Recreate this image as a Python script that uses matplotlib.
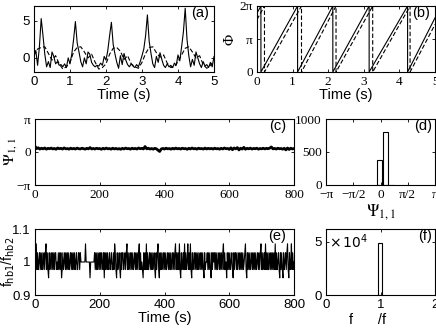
import numpy as np
import matplotlib
matplotlib.use('Agg')
import matplotlib.pyplot as plt
from matplotlib.transforms import blended_transform_factory

# ---- data ----
# (a) bundle signals, solid sampled every 0.05 s, dashed every 0.1 s
sig_solid = [0.5, 1.0, -1.0, 1.5, 5.3, 3.0, 0.5, -1.2, -0.5, -1.3,
             0.8, 0.2, -0.8, -0.5, -1.0, -0.9, -1.2, -0.8, -1.3, 0.0,
             -0.8, 0.5, 2.5, 4.9, 2.0, 0.8, -0.5, -1.2, 0.0, -0.8,
             0.8, 0.5, -0.6, -1.0, -1.2, -1.0, -1.1, -0.7, -1.0, 0.2,
             -0.3, 1.0, 3.0, 4.8, 1.8, 0.5, -0.6, -1.4, 0.3, -0.9,
             0.6, -0.3, -0.9, -1.2, -0.8, -1.1, -1.3, -0.9, -1.2, -0.5,
             0.3, 1.2, 3.0, 5.8, 2.2, 0.6, -0.8, -1.3, 0.2, -0.6,
             0.7, -0.2, -1.0, -1.3, -0.8, -1.2, -1.0, -1.3, -0.7, -1.0,
             0.4, -0.4, 1.5, 3.5, 6.7, 2.5, 0.3, -1.2, -0.2, -1.0,
             0.8, 0.0, -0.8, -1.3, -0.5, -1.1, -0.9, -1.3, -0.6, -1.2,
             0.2]
sig_dashed = [0.3, 1.2, 1.4, 1.5, 0.6, -0.3, 0.3, -0.8, -1.5, -1.2,
              -0.6, 0.8, 1.4, 1.5, 0.8, 0.0, 0.5, -0.6, -1.5, -1.3,
              -0.8, 0.5, 1.3, 1.4, 0.9, -0.2, 0.3, -0.8, -1.2, -1.4,
              -0.6, 0.6, 1.4, 1.5, 0.7, 0.1, 0.4, -0.7, -1.3, -1.2,
              -0.5, 0.4, 1.3, 1.5, 0.8, 0.0, 0.3, -0.9, -1.4, -1.0,
              -0.4]

# (b) times at which each phase wraps from 2pi back to 0
resets_solid = [0.11, 1.14, 2.13, 3.15, 4.23]
resets_dashed = [0.21, 1.25, 2.22, 3.25, 4.30]

# (c) phase difference Psi_1,1, one value every 5 s
psi_vals = [0.55, 0.32, 0.40, 0.28, 0.36, 0.30, 0.38, 0.27, 0.35, 0.31,
            0.37, 0.29, 0.34, 0.26, 0.38, 0.31, 0.35, 0.28, 0.39, 0.30,
            0.33, 0.27, 0.36, 0.30, 0.34, 0.28, 0.37, 0.31, 0.29, 0.36,
            0.32, 0.27, 0.35, 0.30, 0.42, 0.29, 0.34, 0.28, 0.36, 0.31,
            0.33, 0.26, 0.35, 0.29, 0.37, 0.30, 0.33, 0.27, 0.36, 0.29,
            0.34, 0.28, 0.32, 0.26, 0.35, 0.29, 0.37, 0.31, 0.33, 0.27,
            0.36, 0.30, 0.34, 0.28, 0.38, 0.31, 0.35, 0.29, 0.52, 0.30,
            0.36, 0.28, 0.33, 0.27, 0.35, 0.30, 0.18, 0.05, 0.29, 0.34,
            0.28, 0.36, 0.30, 0.33, 0.27, 0.35, 0.29, 0.37, 0.30, 0.34,
            0.28, 0.36, 0.31, 0.33, 0.26, 0.35, 0.29, 0.38, 0.30, 0.34,
            0.27, 0.36, 0.31, 0.33, 0.28, 0.37, 0.29, 0.35, 0.30, 0.34,
            0.28, 0.36, 0.30, 0.33, 0.27, 0.35, 0.29, 0.38, 0.31, 0.34,
            0.25, 0.40, 0.22, 0.38, 0.30, 0.42, 0.20, 0.36, 0.28, 0.44,
            0.26, 0.35, 0.30, 0.37, 0.28, 0.34, 0.31, 0.36, 0.27, 0.33,
            0.30, 0.36, 0.29, 0.35, 0.31, 0.37, 0.48, 0.30, 0.34, 0.28,
            0.36, 0.31, 0.33, 0.27, 0.35, 0.20, 0.38, 0.24, 0.36, 0.29,
            0.33]

# (d) histogram of Psi_1,1
hist_centers = [-0.07, 0.29, 0.64]
hist_counts = [380, 810, 6]

# (e) frequency ratio, one code per 2 s (n=1, u/d small step, U/D spike)
ratio_levels = {'n': 1.0, 'u': 1.028, 'd': 0.977, 'U': 1.055, 'D': 0.952}
ratio_codes = ("DnUdudnudu dudnuduUdu dDudnududu duudndudud uDdudnudud "
               "ududnududu dudnudduud unnnnnnnUn nnnnnDnnnn nnudududnu "
               "dudunduDud ududnudnud dudUudDudn udDuduudnu duUdudnudu "
               "dudnududud uUdudndDud udUdudnudu dudnudDudu UdDududnud "
               "ududnududu dnududuUdu dudUdDudnu dUdudnUdud UdDudnudud "
               "ududnududu dDudnnudud udDudunudu dudnududud uUdudnDudu "
               "dudnudDudu ududnududu dudnuUdDud ududnududu dudnududuU "
               "dudnudUdud udnudududu dUdudnudDu dudDudnudu UdDudnUdud n")

# (f) histogram of the ratio
ratio_bin = [0.99]
ratio_count = [4.9e4]

# ---- figure ----
W, H = 436, 328
fig = plt.figure(figsize=(W / 100, H / 100), dpi=100)

SANS = 'Liberation Sans'
SERIF = 'Liberation Serif'


def box(l, t, r, b):
    return [l / W, 1 - b / H, (r - l) / W, (b - t) / H]


def style(ax, family):
    ax.tick_params(direction='in', top=True, right=True, length=2.5,
                   width=0.6, pad=3, labelsize=9.5)
    for lab in ax.get_xticklabels() + ax.get_yticklabels():
        lab.set_family(family)
    for s in ax.spines.values():
        s.set_linewidth(0.8)


def tag(ax, s):
    ax.text(0.97, 0.9, s, transform=ax.transAxes, ha='right', va='center',
            family=SANS, fontsize=10.5)


# (a)
ax = fig.add_axes(box(34, 6, 214, 72))
t_solid = np.arange(len(sig_solid)) * 0.05
t_dashed = np.arange(len(sig_dashed)) * 0.1
ax.plot(t_solid, sig_solid, color='k', lw=0.8)
ax.plot(t_dashed, sig_dashed, color='k', lw=0.8, ls=(0, (4, 2)))
ax.set_xlim(0, 5)
ax.set_ylim(-1.9, 7)
ax.set_yticks([0, 5])
ax.set_xticks([0, 1, 2, 3, 4, 5])
style(ax, SANS)
ax.set_xlabel('Time (s)', family=SANS, fontsize=10.5, labelpad=0)
tag(ax, '(a)')

# (b)
ax = fig.add_axes(box(257, 6, 435, 72))
two_pi = 2 * np.pi


def sawtooth(resets, end_frac):
    per = np.diff(resets).mean()
    ts = [0.0, resets[0]]
    ys = [two_pi * (1 - resets[0] / per), two_pi]
    for i, r in enumerate(resets):
        ts += [r]
        ys += [0.0]
        if i + 1 < len(resets):
            ts += [resets[i + 1]]
            ys += [two_pi]
    ts += [5.0]
    ys += [two_pi * end_frac]
    return ts, ys


ts, ys = sawtooth(resets_solid, 0.82)
ax.plot(ts, ys, color='k', lw=0.8)
ts, ys = sawtooth(resets_dashed, 0.72)
ax.plot(ts, ys, color='k', lw=0.8, ls=(0, (4, 2)))
ax.set_xlim(0, 5)
ax.set_ylim(0, two_pi)
ax.set_yticks([0, np.pi, two_pi], ['0', 'π', '2π'])
ax.set_xticks([0, 1, 2, 3, 4, 5])
style(ax, SERIF)
ax.set_xlabel('Time (s)', family=SANS, fontsize=10.5, labelpad=0)
ax.set_ylabel('Φ', family=SERIF, fontsize=11, labelpad=2)
tag(ax, '(b)')

# (c)
ax = fig.add_axes(box(35, 119, 294, 185))
t_psi = np.arange(len(psi_vals)) * 5.0
ax.plot(t_psi, psi_vals, color='k', lw=2.0)
ax.set_xlim(0, 800)
ax.set_ylim(-np.pi, np.pi)
ax.set_yticks([-np.pi, 0, np.pi], ['−π', '0', 'π'])
ax.set_xticks([0, 200, 400, 600, 800])
style(ax, SERIF)
ax.set_ylabel(r'$\Psi_{1,1}$', fontsize=11.5, math_fontfamily='stix')
ax.yaxis.set_label_coords(-0.062, 0.5)
tag(ax, '(c)')

# (d)
ax = fig.add_axes(box(326, 119, 435, 185))
ax.bar(hist_centers, hist_counts, width=0.32, facecolor='white',
       edgecolor='k', linewidth=0.8)
ax.set_xlim(-np.pi, np.pi)
ax.set_ylim(0, 1000)
ax.set_yticks([0, 500, 1000])
ax.set_xticks([-np.pi, -np.pi / 2, 0, np.pi / 2, np.pi],
              ['−π', '−π/2', '0', 'π/2', 'π'])
style(ax, SERIF)
ax.set_xlabel(r'$\Psi_{1,1}$', fontsize=12, math_fontfamily='stix',
              labelpad=1)
tag(ax, '(d)')

# (e)
ax = fig.add_axes(box(35, 229, 294, 295))
codes = ratio_codes.replace(' ', '')
ratio = [ratio_levels[c] for c in codes]
t_ratio = np.arange(len(ratio)) * 2.0
ax.plot(t_ratio, ratio, color='k', lw=0.8)
ax.set_xlim(0, 800)
ax.set_ylim(0.9, 1.1)
ax.set_yticks([0.9, 1.0, 1.1], ['0.9', '1', '1.1'])
ax.set_xticks([0, 200, 400, 600, 800])
style(ax, SANS)
ax.set_xlabel('Time (s)', family=SANS, fontsize=10.5, labelpad=0)
ax.set_ylabel(r'f$_{\mathrm{hb1}}$/f$_{\mathrm{hb2}}$', family=SANS,
              fontsize=10)
ax.yaxis.set_label_coords(-0.068, 0.5)
tag(ax, '(e)')

# (f)
ax = fig.add_axes(box(326, 229, 435, 295))
ax.bar(ratio_bin, ratio_count, width=0.07, facecolor='white',
       edgecolor='k', linewidth=0.8)
ax.set_xlim(0, 2)
ax.set_ylim(0, 6.2e4)
ax.set_yticks([0, 5e4], ['0', '5'])
ax.set_xticks([0, 1, 2])
style(ax, SANS)
trans = blended_transform_factory(ax.transAxes, ax.transData)
ax.text(0.03, 5e4, r'$\times\,10^4$', transform=trans, va='center',
        ha='left', family=SANS, fontsize=10, math_fontfamily='dejavusans')
fig.text(368 / W, 1 - 320 / H, 'f      /f', family=SANS, fontsize=10.5,
         ha='center', va='center')
tag(ax, '(f)')

fig.savefig('out.png', dpi=100)
